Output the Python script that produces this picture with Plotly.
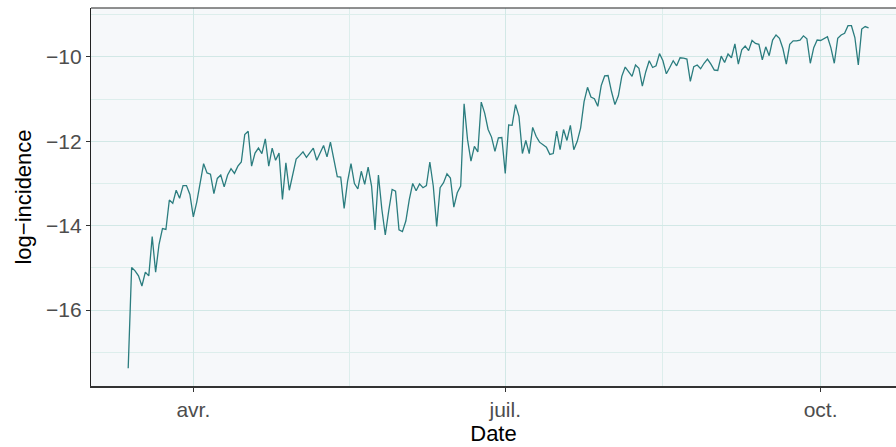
import pandas as pd
import plotly.graph_objects as go

# Daily log-incidence series, 13 March to 15 October 2020
start_date = "2020-03-13"
log_incidence = [
    -17.38, -14.99, -15.07, -15.19, -15.43, -15.10, -15.19, -14.26, -15.10, -14.44,
    -14.07, -14.09, -13.39, -13.47, -13.16, -13.35, -13.05, -13.05, -13.26,
    # April
    -13.79, -13.44, -12.98, -12.53, -12.75, -12.78, -13.24, -12.88, -12.80, -13.08,
    -12.80, -12.65, -12.76, -12.59, -12.49, -11.84, -11.76, -12.59, -12.28, -12.16,
    -12.29, -11.94, -12.59, -12.16, -12.45, -12.28, -13.38, -12.51, -13.16, -12.79,
    # May
    -12.42, -12.34, -12.25, -12.38, -12.28, -12.16, -12.45, -12.28, -12.10, -12.37,
    -12.02, -12.43, -12.84, -12.85, -13.59, -12.95, -12.53, -13.00, -13.13, -12.71,
    -13.02, -12.61, -13.06, -14.10, -12.80, -13.61, -14.22, -13.65, -13.14, -13.18,
    -14.10,
    # June
    -14.14, -13.89, -13.38, -13.00, -13.17, -13.01, -13.10, -13.05, -12.49, -13.06,
    -14.02, -13.10, -12.98, -12.77, -12.87, -13.56, -13.22, -13.06, -11.11, -11.96,
    -12.47, -12.12, -12.25, -11.07, -11.33, -11.72, -11.90, -12.24, -11.92, -11.91,
    # July
    -12.76, -11.61, -11.62, -11.13, -11.41, -12.29, -11.98, -12.29, -11.67, -11.88,
    -12.02, -12.08, -12.14, -12.31, -12.29, -11.76, -12.20, -11.72, -11.98, -11.62,
    -12.20, -12.00, -11.68, -11.06, -10.72, -10.95, -10.99, -11.17, -10.68, -10.45,
    -10.44,
    # August
    -10.82, -11.13, -10.92, -10.46, -10.24, -10.35, -10.46, -10.19, -10.27, -10.69,
    -10.35, -10.09, -10.25, -10.21, -9.92, -10.09, -10.40, -10.25, -10.09, -10.21,
    -10.02, -10.03, -10.05, -10.58, -10.23, -10.19, -10.28, -10.15, -10.05, -10.17,
    -10.31,
    # September
    -10.32, -9.98, -10.13, -9.93, -10.02, -9.69, -10.17, -9.83, -9.74, -9.85,
    -9.61, -9.68, -9.70, -10.07, -9.76, -9.97, -9.60, -9.48, -9.56, -9.80,
    -10.17, -9.70, -9.62, -9.62, -9.60, -9.50, -9.57, -10.15, -9.78, -9.60,
    # October
    -9.61, -9.57, -9.52, -9.78, -10.15, -9.56, -9.48, -9.44, -9.26, -9.26,
    -9.54, -10.19, -9.34, -9.28, -9.31,
]
dates = pd.date_range(start_date, periods=len(log_incidence), freq="D")

x_tick_vals = ["2020-04-01", "2020-07-01", "2020-10-01"]
x_tick_text = ["avr.", "juil.", "oct."]
x_minor_vals = ["2020-05-16 12:00", "2020-08-16"]
y_tick_vals = [-16, -14, -12, -10]
y_tick_text = ["\u221216", "\u221214", "\u221212", "\u221210"]
y_minor_vals = [-17, -15, -13, -11, -9]

LINE = "#2b7d7f"
GRID = "#d2e8e6"
GRID_MINOR = "#ddeeec"
FONT = "Liberation Sans, Arial, sans-serif"

fig = go.Figure(
    go.Scatter(
        x=dates, y=log_incidence, mode="lines",
        line=dict(color=LINE, width=1.3),
        hoverinfo="skip",
    )
)

fig.update_layout(
    width=896, height=447,
    margin=dict(l=91, r=0, t=8, b=61),
    paper_bgcolor="white",
    plot_bgcolor="#f6f8fa",
    showlegend=False,
    font=dict(family=FONT),
)

fig.update_xaxes(
    range=["2020-03-02 03:30", "2020-10-23 00:00"],
    tickvals=x_tick_vals, ticktext=x_tick_text,
    tickfont=dict(size=21, color="#4d4d4d"),
    ticks="outside", ticklen=4, tickwidth=1, tickcolor="#333333",
    showgrid=True, gridcolor=GRID, gridwidth=1.1,
    minor=dict(tickvals=x_minor_vals, showgrid=True, gridcolor=GRID_MINOR,
               gridwidth=1, ticks=""),
    showline=True, linecolor="#333333", linewidth=1.5,
    zeroline=False,
    title=dict(text="Date", font=dict(size=22, color="black"), standoff=6),
)

fig.update_yaxes(
    range=[-17.80, -8.84],
    tickvals=y_tick_vals, ticktext=y_tick_text,
    tickfont=dict(size=21, color="#4d4d4d"),
    ticks="outside", ticklen=4, tickwidth=1, tickcolor="#333333",
    showgrid=True, gridcolor=GRID, gridwidth=1.1,
    minor=dict(tickvals=y_minor_vals, showgrid=True, gridcolor=GRID_MINOR,
               gridwidth=1, ticks=""),
    showline=True, linecolor="#222222", linewidth=1.2,
    zeroline=False,
    title=dict(text="log\u2212incidence", font=dict(size=22, color="black"), standoff=8),
)

# panel border along the top edge
fig.add_shape(type="line", xref="paper", yref="paper", x0=0, x1=1, y0=1, y1=1,
              line=dict(color="#222222", width=1.2))

fig.write_html("out.html")
